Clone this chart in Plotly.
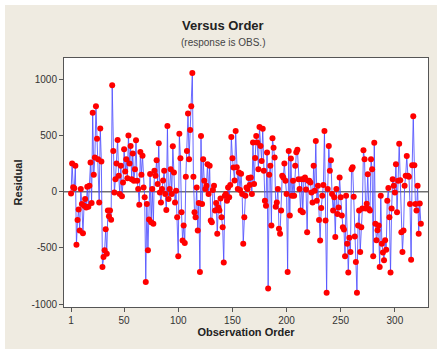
import plotly.graph_objects as go

residuals = [
    -15, 250, 40, 30, 230, -472, -251, -159, -345, 24,
    -110, -369, -124, -65, -140, 44, -133, 53, 260, -100,
    702, 150, 304, 761, 472, 290, -95, 563, 268, -670,
    -581, -522, -334, -551, -168, -218, -168, -250, 947,
    363, -6, 112, 250, 460, 142, -21, 230, -40, 82,
    378, 180, 289, 120, 501, 250, 407, 112, 339, 97,
    200, 457, 97, 24, -115, 354, 150, 319, 38, -50,
    -803, -109, -522, -248, 157, -271, 24, -286, 186, 142,
    280, 68, 431, -6, -95, 24, 100, 186, -21, -162,
    584, -65, 24, 200, -21, 404, 171, -95, 9, -227,
    -575, 516, 298, -183, -434, -300, -457, 133, 363, 696,
    289, 550, 761, 1056, 133, -183, -227, 38, -345, -100,
    -714, 496, -109, 289, 97, 24, 53, 245, -20, 230,
    -257, -271, 15, 53, -168, -100, -375, -140, -168, -60,
    -227, -316, -631, -35, -21, -80, 38, -50, 60, 487,
    298, 215, 100, 540, 218, 24, 170, 15, 160, -20,
    -463, -227, -35, 38, 24, 121, 60, 127, -20, 437,
    68, 300, 496, 437, 200, 575, 407, 274, 560, 186,
    -80, -124, 348, -861, 150, 230, -301, 475, 392, 304,
    -133, -95, 24, -330, -375, -168, 142, 127, 250, 97,
    -20, -714, 363, -212, 295, -35, 97, -35, 230, 351,
    374, 112, 24, -168, 112, -183, 112, 127, 20, -360,
    97, 97, 82, -6, -95, 230, 9, 451, -80, 53,
    -251, -434, -145, -35, 60, 540, -257, -900, 24, 407,
    186, 280, -21, -168, -50, -404, 24, -198, -140, 127,
    -50, -212, -316, -336, -575, -35, -463, -720, -410, -537,
    201, 218, -44, -398, -625, -900, -301, -168, -537, -316,
    -150, 369, 290, -150, -108, 156, -153, -168, 290, 200,
    -575, 436, -285, -432, -344, -301, -670, -35, -463, -540,
    -610, -432, -516, -80, 33, -227, -720, -150, 112, 53,
    -6, 245, -183, 97, 427, 103, -360, -537, -345, 53,
    142, 318, 142, 133, -109, -605, 236, 672, 236, -109,
    -168, 53, -374, -106, -286,
]
order = list(range(1, len(residuals) + 1))

x_ticks = [1, 50, 100, 150, 200, 250, 300]
y_ticks = [-1000, -500, 0, 500, 1000]

title_text = "Versus Order"
subtitle_text = "(response is OBS.)"
x_title = "Observation Order"
y_title = "Residual"

FONT = "Liberation Sans"
W, H = 441, 351
L, R, T, B = 64, 13, 58, 44
PW, PH = W - L - R, H - T - B

fig = go.Figure()
fig.add_trace(go.Scatter(
    x=order, y=residuals, mode="lines+markers",
    line=dict(color="rgba(80,80,255,0.85)", width=1),
    marker=dict(color="#ff0000", size=6, line=dict(width=0)),
    showlegend=False, hoverinfo="skip",
))

fig.update_layout(
    width=W, height=H,
    margin=dict(l=L, r=R, t=T, b=B, pad=0),
    paper_bgcolor="white",
    plot_bgcolor="white",
    font=dict(family=FONT, size=10, color="#333333"),
    shapes=[
        dict(type="rect", xref="paper", yref="paper", layer="below",
             x0=(5 - L) / PW, x1=(437 - L) / PW,
             y0=-(349 - (H - B)) / PH, y1=1 + (T - 5) / PH,
             fillcolor="#efebe1", line=dict(width=0)),
        dict(type="rect", xref="paper", yref="paper", layer="below",
             x0=0, x1=1, y0=0, y1=1, fillcolor="white", line=dict(width=0)),
        dict(type="line", xref="paper", yref="y", x0=0, x1=1, y0=0, y1=0,
             line=dict(color="#707070", width=1.5), layer="below"),
    ],
    annotations=[
        dict(text="<b>" + title_text + "</b>", xref="paper", yref="paper",
             x=(223 - L) / PW, y=1 + (T - 26) / PH,
             showarrow=False, font=dict(size=13, color="#222222", family=FONT),
             xanchor="center", yanchor="middle"),
        dict(text=subtitle_text, xref="paper", yref="paper",
             x=(223 - L) / PW, y=1 + (T - 42) / PH,
             showarrow=False, font=dict(size=10, color="#444444", family=FONT),
             xanchor="center", yanchor="middle"),
    ],
)

fig.update_xaxes(
    range=[-5.5, 330.6], tickvals=x_ticks, ticktext=[str(t) for t in x_ticks],
    showgrid=False, zeroline=False, showline=True, mirror=True,
    linecolor="#555555", linewidth=1, ticks="outside", ticklen=4,
    tickcolor="#555555",
    title=dict(text="<b>" + x_title + "</b>", font=dict(size=11, color="#222222"), standoff=2),
)
fig.update_yaxes(
    range=[-1026, 1190], tickvals=y_ticks, ticktext=[str(t) for t in y_ticks],
    showgrid=False, zeroline=False, showline=True, mirror=True,
    linecolor="#555555", linewidth=1, ticks="outside", ticklen=4,
    tickcolor="#555555",
    title=dict(text="<b>" + y_title + "</b>", font=dict(size=11, color="#222222"), standoff=6),
)

fig.write_html("out.html", config={"displayModeBar": False},
               post_script="document.body.style.margin='0';")
